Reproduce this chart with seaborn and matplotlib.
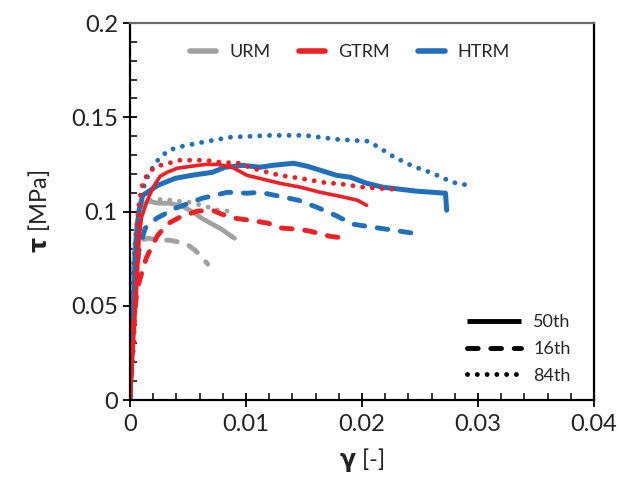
import numpy as np
import pandas as pd
import matplotlib
matplotlib.use('Agg')
import matplotlib.pyplot as plt
from matplotlib.lines import Line2D
from matplotlib.ticker import MultipleLocator
import seaborn as sns

# shear strain gamma [-] and shear stress tau [MPa]
urm_50_x = [0, 0.0001, 0.00034, 0.0006, 0.00095, 0.0016, 0.0024, 0.0034, 0.0045, 0.0053, 0.0062, 0.0071, 0.0079, 0.009]
urm_50_y = [0, 0.037, 0.074, 0.0943, 0.1033, 0.1055, 0.1044, 0.1044, 0.1028, 0.1002, 0.0964, 0.0933, 0.0906, 0.0858]
urm_16_x = [0, 0.0001, 0.00034, 0.0006, 0.00095, 0.0016, 0.0024, 0.0034, 0.0043, 0.0049, 0.0056, 0.0062, 0.0067]
urm_16_y = [0, 0.0318, 0.0583, 0.0753, 0.0848, 0.0859, 0.0848, 0.0848, 0.0837, 0.0827, 0.0795, 0.0758, 0.0721]
urm_84_x = [0, 0.0001, 0.00026, 0.0005, 0.0009, 0.0017, 0.003, 0.0041, 0.0052, 0.0065, 0.0076, 0.0085]
urm_84_y = [0, 0.037, 0.069, 0.09, 0.1017, 0.106, 0.1065, 0.1055, 0.1049, 0.1028, 0.1007, 0.1002]

gtrm_50_x = [0, 0.00026, 0.0006, 0.00078, 0.001, 0.0015, 0.002, 0.0026, 0.0032, 0.0041, 0.0053, 0.0065,
             0.0076, 0.0088, 0.0101, 0.0115, 0.0129, 0.0147, 0.0164, 0.0181, 0.0196, 0.0204]
gtrm_50_y = [0, 0.0265, 0.062, 0.0848, 0.097, 0.106, 0.1129, 0.1187, 0.1208, 0.123, 0.124, 0.125,
             0.125, 0.1235, 0.1192, 0.1171, 0.115, 0.1129, 0.1102, 0.1081, 0.106, 0.1033]
gtrm_16_x = [0, 0.00017, 0.00034, 0.0006, 0.00095, 0.0014, 0.0019, 0.0024, 0.0032, 0.0043, 0.0058, 0.0071,
             0.0079, 0.0091, 0.0103, 0.0119, 0.0131, 0.0145, 0.0155, 0.0172, 0.0186]
gtrm_16_y = [0, 0.0212, 0.0424, 0.058, 0.066, 0.0752, 0.0816, 0.0874, 0.0933, 0.097, 0.1002, 0.1007,
             0.0986, 0.0964, 0.0954, 0.0938, 0.0912, 0.0906, 0.0896, 0.0869, 0.0858]
gtrm_84_x = [0, 0.00034, 0.0005, 0.0006, 0.0007, 0.0009, 0.0011, 0.0016, 0.0023, 0.0033, 0.0043, 0.0053,
             0.0065, 0.0078, 0.0095, 0.0103, 0.0112, 0.0129, 0.0147, 0.0166, 0.0183, 0.0201, 0.0227]
gtrm_84_y = [0, 0.0318, 0.062, 0.0848, 0.1007, 0.1086, 0.115, 0.1208, 0.124, 0.1256, 0.1272, 0.1272,
             0.1272, 0.1261, 0.1256, 0.1235, 0.1219, 0.1192, 0.1176, 0.1155, 0.1145, 0.1129, 0.1118]

htrm_50_x = [0, 0.00017, 0.00034, 0.0005, 0.00078, 0.0011, 0.0017, 0.0024, 0.0039, 0.0053, 0.0071, 0.0082,
             0.0097, 0.0112, 0.0123, 0.0141, 0.0153, 0.0164, 0.0178, 0.019, 0.0204, 0.0218, 0.0233,
             0.0247, 0.0272, 0.0273]
htrm_50_y = [0, 0.0265, 0.053, 0.0795, 0.1007, 0.1086, 0.111, 0.1139, 0.1176, 0.1192, 0.1208, 0.1235,
             0.1245, 0.1235, 0.1245, 0.1256, 0.124, 0.1219, 0.1192, 0.1182, 0.115, 0.1129, 0.1118,
             0.1108, 0.1097, 0.1007]
htrm_16_x = [0, 0.00017, 0.00043, 0.00078, 0.0013, 0.0023, 0.0039, 0.0062, 0.0084, 0.0101, 0.0112, 0.0129,
             0.0145, 0.0161, 0.0177, 0.0192, 0.0209, 0.0227, 0.0244]
htrm_16_y = [0, 0.0318, 0.061, 0.0795, 0.0911, 0.0964, 0.1017, 0.107, 0.1102, 0.1097, 0.1102, 0.1081,
             0.106, 0.1023, 0.098, 0.0933, 0.0917, 0.0901, 0.0885]
htrm_84_x = [0, 0.0001, 0.00034, 0.0007, 0.0013, 0.0022, 0.0033, 0.0045, 0.0062, 0.0086, 0.0121, 0.0151,
             0.0178, 0.0205, 0.0213, 0.0228, 0.0244, 0.0261, 0.0278, 0.0296]
htrm_84_y = [0, 0.037, 0.074, 0.098, 0.116, 0.126, 0.1325, 0.1346, 0.1367, 0.1394, 0.1404, 0.1404,
             0.1383, 0.1373, 0.1346, 0.1288, 0.124, 0.1203, 0.1155, 0.1134]

groups = ['URM', 'GTRM', 'HTRM']
percentiles = ['50th', '16th', '84th']
x_ticks = [0, 0.01, 0.02, 0.03, 0.04]
x_tick_labels = ['0', '0.01', '0.02', '0.03', '0.04']
y_ticks = [0, 0.05, 0.1, 0.15, 0.2]
y_tick_labels = ['0', '0.05', '0.1', '0.15', '0.2']

curves = {
    ('URM', '50th'): (urm_50_x, urm_50_y), ('URM', '16th'): (urm_16_x, urm_16_y),
    ('URM', '84th'): (urm_84_x, urm_84_y),
    ('HTRM', '50th'): (htrm_50_x, htrm_50_y), ('HTRM', '16th'): (htrm_16_x, htrm_16_y),
    ('HTRM', '84th'): (htrm_84_x, htrm_84_y),
    ('GTRM', '50th'): (gtrm_50_x, gtrm_50_y), ('GTRM', '16th'): (gtrm_16_x, gtrm_16_y),
    ('GTRM', '84th'): (gtrm_84_x, gtrm_84_y),
}

colors = {'URM': '#a0a0a0', 'GTRM': '#ed2024', 'HTRM': '#1f6fbd'}
styles = {'50th': 'solid', '16th': (0, (2.2, 2.6)), '84th': (0, (0.01, 2.0))}
widths = {'URM': 3.4, 'GTRM': 2.6, 'HTRM': 3.6}

sns.set_style('ticks')
plt.rcParams['font.family'] = ['Lato', 'DejaVu Sans']

fig = plt.figure(figsize=(6.21, 4.93), dpi=100)
ax = fig.add_axes([0.2093, 0.1886, 0.7472, 0.7647])

for (grp, pct), (xs, ys) in curves.items():
    df = pd.DataFrame({'gamma': xs, 'tau': ys})
    lw = widths[grp] if pct == '50th' else 3.5
    sns.lineplot(data=df, x='gamma', y='tau', ax=ax, color=colors[grp], linewidth=lw,
                 linestyle=styles[pct], sort=False, estimator=None, legend=False,
                 dash_capstyle='round', solid_capstyle='round', solid_joinstyle='round')

ax.set_xlim(0, 0.04)
ax.set_ylim(0, 0.2)
ax.set_xticks(x_ticks)
ax.set_xticklabels(x_tick_labels)
ax.set_yticks(y_ticks)
ax.set_yticklabels(y_tick_labels)
ax.xaxis.set_minor_locator(MultipleLocator(0.002))
ax.yaxis.set_minor_locator(MultipleLocator(0.01))
ax.tick_params(which='major', direction='inout', length=9.5, width=1.3, labelsize=17, colors='black')
ax.tick_params(axis='x', which='major', pad=5)
ax.tick_params(axis='y', which='major', pad=4)
ax.tick_params(which='minor', direction='in', length=5, width=1.3)
for lbl in ax.get_xticklabels() + ax.get_yticklabels():
    lbl.set_color('#222222')

for side in ['left', 'bottom', 'right']:
    ax.spines[side].set_color('black')
    ax.spines[side].set_linewidth(1.6)
ax.spines['top'].set_color('#6a6a6a')
ax.spines['top'].set_linewidth(1.6)

ax.set_xlabel(r'$\mathbf{γ}$ [-]', fontsize=17, color='#222222', labelpad=8)
ax.set_ylabel(r'$\mathbf{τ}$ [MPa]', fontsize=17, color='#222222', labelpad=14)

grp_handles = [Line2D([], [], color=colors[g], linewidth=4) for g in groups]
leg1 = ax.legend(grp_handles, groups, loc='center', bbox_to_anchor=(0.474, 0.923), ncol=3,
                 frameon=False, fontsize=13, handlelength=1.45, handletextpad=0.7, columnspacing=1.6)
ax.add_artist(leg1)

pct_handles = [Line2D([], [], color='black', linewidth=3.5, linestyle=styles[p],
                      dash_capstyle='round', solid_capstyle='butt') for p in percentiles]
ax.legend(pct_handles, percentiles, loc='lower right', bbox_to_anchor=(0.985, 0.0),
          frameon=False, fontsize=13, handlelength=3.0, handletextpad=0.7, labelspacing=0.6)

fig.savefig('out.png', dpi=100)
